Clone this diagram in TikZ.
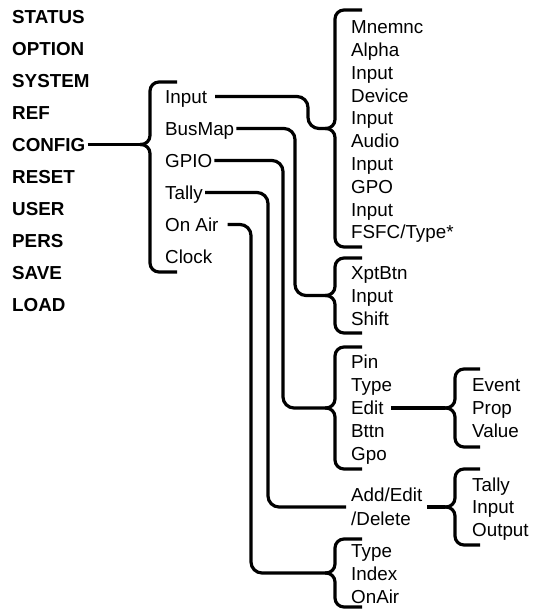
\documentclass[tikz,border=0pt]{standalone}
\usepackage{fontspec}
\setmainfont{Liberation Sans}
\newcommand\bracepath[5]{% tip x, tip y, top y, bottom y, arm end x
  \draw[bracel] (#5,#3) -- ({#1+10},#3) -- ({#1+10},#2) -- (#1,#2);
  \draw[bracel] (#1,#2) -- ({#1+10},#2) -- ({#1+10},#4) -- (#5,#4);
}
\begin{document}
\begin{tikzpicture}[x=1pt,y=-1pt,
  wire/.style={line width=3.2pt, rounded corners=11pt},
  bracel/.style={line width=3.2pt, rounded corners=9pt, line join=round},
  main/.style={inner sep=0pt, anchor=west, font=\fontsize{18.8}{23}\selectfont\bfseries, text height=13.5pt, text depth=0pt},
  item/.style={inner sep=0pt, anchor=west, font=\fontsize{18.8}{23}\selectfont, text height=13.5pt, text depth=0pt},
  twoline/.style={inner sep=0pt, anchor=west, align=left, font=\fontsize{18.8}{24}\selectfont}]
\fill[white] (0,0) rectangle (532,609);
\useasboundingbox (0,0) rectangle (532,609);

% main menu
\node[main] (status) at (12,16.5) {STATUS};
\node[main] (option) at (12,48.5) {OPTION};
\node[main] (system) at (12,80.5) {SYSTEM};
\node[main] (ref) at (12,112.5) {REF};
\node[main] (config) at (12,144.5) {CONFIG};
\node[main] (reset) at (12,176.5) {RESET};
\node[main] (user) at (12,208.5) {USER};
\node[main] (pers) at (12,240.5) {PERS};
\node[main] (save) at (12,272.5) {SAVE};
\node[main] (load) at (12,304.5) {LOAD};

% config submenu
\coordinate (tc) at (140,144.5);
\bracepath{140}{144.5}{82}{272}{177}
\node[item] (input) at (165,96.5) {Input};
\node[item] (busmap) at (165,128.5) {BusMap};
\node[item] (gpio) at (165,160.5) {GPIO};
\node[item] (tally) at (165,192.5) {Tally};
\node[item] (onair) at (165,224.5) {On Air};
\node[item] (clock) at (165,256.5) {Clock};
\draw[wire] ([xshift=2pt]config.east) -- (tc);

% input list
\coordinate (tA) at (325,128.5);
\bracepath{325}{128.5}{10}{247}{362}
\node[item] (a1) at (351,27) {Mnemnc};
\node[item] (a2) at (351,49.8) {Alpha};
\node[item] (a3) at (351,72.6) {Input};
\node[item] (a4) at (351,95.4) {Device};
\node[item] (a5) at (351,118.2) {Input};
\node[item] (a6) at (351,141) {Audio};
\node[item] (a7) at (351,163.8) {Input};
\node[item] (a8) at (351,186.6) {GPO};
\node[item] (a9) at (351,209.4) {Input};
\node[item] (a10) at (351,232.2) {FSFC/Type*};
\draw[wire] ([xshift=8pt]input.east) -| ([xshift=-17pt]tA) -- (tA);

% busmap list
\coordinate (tB) at (325,295.5);
\bracepath{325}{295.5}{258}{333}{362}
\node[item] (b1) at (351,272.5) {XptBtn};
\node[item] (b2) at (351,295.5) {Input};
\node[item] (b3) at (351,318.5) {Shift};
\draw[wire] ([xshift=2pt]busmap.east) -| ([xshift=-30pt]tB) -- (tB);

% gpio list
\coordinate (tC) at (325,408);
\bracepath{325}{408}{347}{469}{362}
\node[item] (c1) at (351,362) {Pin};
\node[item] (c2) at (351,385) {Type};
\node[item] (c3) at (351,408) {Edit};
\node[item] (c4) at (351,431) {Bttn};
\node[item] (c5) at (351,454) {Gpo};
\draw[wire] ([xshift=2pt]gpio.east) -| ([xshift=-42pt]tC) -- (tC);

% edit list
\coordinate (tD) at (445,408);
\bracepath{445}{408}{369}{447}{480}
\node[item] (d1) at (472,385) {Event};
\node[item] (d2) at (472,408) {Prop};
\node[item] (d3) at (472,431) {Value};
\draw[wire] ([xshift=7pt]c3.east) -- (tD);

% tally
\node[twoline] (ad) at (351,507) {Add/Edit\\/Delete};
\draw[wire] ([xshift=2pt]tally.east) -| ([xshift=-83pt]ad.west) -- ([xshift=-5pt]ad.west);
\coordinate (tE) at (445,507);
\bracepath{445}{507}{469}{545}{480}
\node[item] (e1) at (472,484.5) {Tally};
\node[item] (e2) at (472,507) {Input};
\node[item] (e3) at (472,529.5) {Output};
\draw[wire] ([xshift=5pt]ad.east) -- (tE);

% on air list
\coordinate (tF) at (325,573);
\bracepath{325}{573}{539}{607}{362}
\node[item] (f1) at (351,551) {Type};
\node[item] (f2) at (351,574) {Index};
\node[item] (f3) at (351,597) {OnAir};
\draw[wire] ([xshift=9pt]onair.east) -| ([xshift=-74pt]tF) -- (tF);
\end{tikzpicture}
\end{document}
